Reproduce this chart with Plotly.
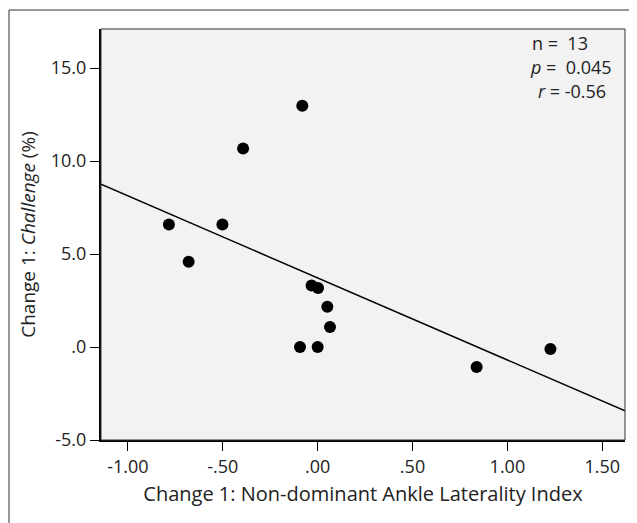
import numpy as np
import plotly.graph_objects as go

# Data
x_vals = [-0.081, -0.393, -0.784, -0.502, -0.680, -0.032, 0.002, 0.051, 0.065, -0.093, 0.000, 0.838, 1.227]
y_vals = [12.97, 10.68, 6.59, 6.59, 4.59, 3.31, 3.17, 2.17, 1.08, 0.00, 0.00, -1.08, -0.11]

x_tickvals = [-1.0, -0.5, 0.0, 0.5, 1.0, 1.5]
x_ticktext = ["-1.00", "-.50", ".00", ".50", "1.00", "1.50"]
y_tickvals = [-5, 0, 5, 10, 15]
y_ticktext = ["-5.0", ".0", "5.0", "10.0", "15.0"]

stats_lines = ["n =  13", "<i>p</i> =  0.045", "<i>r</i> = -0.56"]

x_range = [-1.142, 1.62]
y_range = [-5.0, 17.1]

slope, intercept = np.polyfit(x_vals, y_vals, 1)
fit_x = np.array(x_range)
fit_y = slope * fit_x + intercept

FONT = "Open Sans"
TXT = "#222222"

OFF = 8  # browser body margin
W, H = 637, 523
L, T = 101 - OFF, 29 - OFF
PW, PH = 524, 411
R = W - L - PW
B = H - T - PH


def px(xs):
    return (xs - OFF - L) / PW


def py(ys):
    return (T + PH - (ys - OFF)) / PH


fig = go.Figure()
fig.add_trace(go.Scatter(x=fit_x, y=fit_y, mode="lines",
                         line=dict(color="black", width=1.5), hoverinfo="skip", showlegend=False))
fig.add_trace(go.Scatter(x=x_vals, y=y_vals, mode="markers",
                         marker=dict(color="black", size=12), showlegend=False))

fig.update_layout(
    width=W, height=H,
    margin=dict(l=L, r=R, t=T, b=B),
    paper_bgcolor="white",
    plot_bgcolor="#f1f2f1",
    font=dict(family=FONT, color=TXT, size=18),
    xaxis=dict(range=x_range, tickvals=x_tickvals, ticktext=x_ticktext, automargin=False,
               showgrid=False, zeroline=False, ticks="outside", ticklen=9, tickwidth=1.2,
               tickcolor="black", showline=True, linecolor="black", linewidth=2, mirror=False,
               title=dict(text="Change 1: Non-dominant Ankle Laterality Index", font=dict(size=20), standoff=10),
               tickfont=dict(size=18)),
    yaxis=dict(range=y_range, tickvals=y_tickvals, ticktext=y_ticktext, automargin=False,
               showgrid=False, zeroline=False, ticks="outside", ticklen=9, tickwidth=1.2,
               tickcolor="black", showline=True, linecolor="black", linewidth=2, mirror=False,
               title=dict(text="Change 1: <i>Challenge</i> (%)", font=dict(size=19), standoff=10),
               tickfont=dict(size=18)),
)

# thin frame around plot area (top/right)
fig.add_shape(type="rect", xref="paper", yref="paper", x0=0, y0=0, x1=1, y1=1,
              line=dict(color="#333", width=1), layer="above")
# outer frame of the figure
fig.add_shape(type="rect", xref="paper", yref="paper",
              x0=px(9), x1=px(632), y0=py(560), y1=py(10),
              line=dict(color="#333", width=1), layer="above")

for txt, xx, yy in zip(stats_lines, [530, 528, 536], [43, 67, 91]):
    fig.add_annotation(text=txt, xref="paper", yref="paper", x=px(xx), y=py(yy),
                       xanchor="left", yanchor="middle", showarrow=False,
                       font=dict(size=18, family=FONT, color=TXT))

fig.write_html("out.html")
